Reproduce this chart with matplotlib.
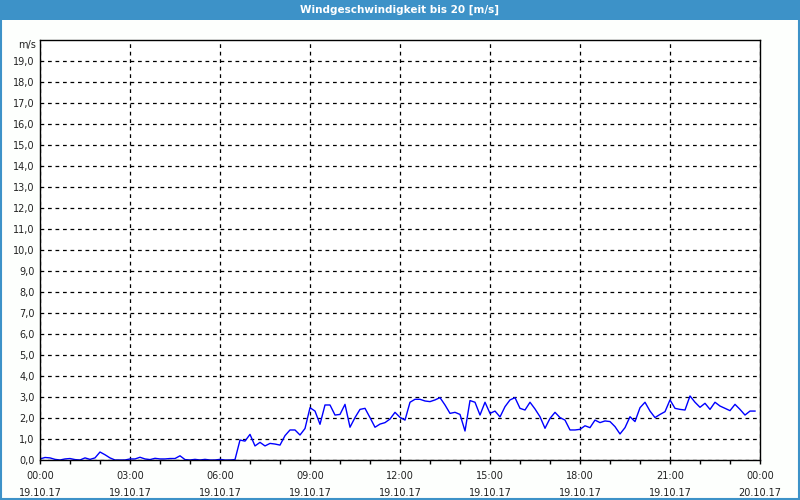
"""
Windgeschwindigkeit über einen Tag (10-Minuten-Werte), im Stil des
Wetterstations-Fensters mit blauer Titelleiste.
"""

import numpy as np
import matplotlib
matplotlib.use("Agg")
import matplotlib.pyplot as plt
import matplotlib.patches as mpatches
from matplotlib.ticker import MultipleLocator, FixedLocator

# ── Data ──────────────────────────────────────────────────────────────────────

TITLE = "Windgeschwindigkeit bis 20 [m/s]"
UNIT = "m/s"

# 10-minute samples from 19.10.17 00:00 to 23:50 (hours since midnight)
hours = np.arange(144) / 6.0

wind = [
    0.05, 0.12, 0.10, 0.03, 0.00, 0.05, 0.07, 0.02, 0.00, 0.10,
    0.03, 0.10, 0.38, 0.25, 0.10, 0.00, 0.00, 0.00, 0.05, 0.05,
    0.13, 0.05, 0.02, 0.08, 0.05, 0.05, 0.07, 0.07, 0.20, 0.02,
    0.00, 0.03, 0.00, 0.03, 0.00, 0.00, 0.03, 0.00, 0.00, 0.02,
    0.95, 0.90, 1.22, 0.67, 0.84, 0.67, 0.79, 0.76, 0.71, 1.16,
    1.43, 1.43, 1.19, 1.50, 2.49, 2.33, 1.70, 2.62, 2.62, 2.14,
    2.17, 2.65, 1.56, 2.02, 2.41, 2.46, 2.02, 1.56, 1.71, 1.78,
    1.95, 2.27, 2.03, 1.90, 2.75, 2.89, 2.89, 2.81, 2.78, 2.86,
    2.97, 2.62, 2.22, 2.27, 2.17, 1.38, 2.83, 2.75, 2.14, 2.75,
    2.22, 2.33, 2.05, 2.54, 2.86, 2.97, 2.46, 2.38, 2.75, 2.43,
    2.06, 1.51, 1.98, 2.27, 2.02, 1.90, 1.43, 1.43, 1.46, 1.63,
    1.54, 1.90, 1.78, 1.86, 1.83, 1.59, 1.24, 1.54, 2.06, 1.83,
    2.49, 2.75, 2.33, 2.02, 2.17, 2.30, 2.86, 2.46, 2.41, 2.38,
    3.05, 2.75, 2.51, 2.70, 2.41, 2.75, 2.57, 2.46, 2.35, 2.65,
    2.41, 2.14, 2.33, 2.33,
]

major_hours = [0, 3, 6, 9, 12, 15, 18, 21, 24]
major_labels = [
    "00:00\n19.10.17", "03:00\n19.10.17", "06:00\n19.10.17",
    "09:00\n19.10.17", "12:00\n19.10.17", "15:00\n19.10.17",
    "18:00\n19.10.17", "21:00\n19.10.17", "00:00\n20.10.17",
]
y_ticks = list(range(0, 20))

# ── Style ─────────────────────────────────────────────────────────────────────

FRAME_BLUE = "#3d92c8"
LINE_BLUE = "#0000ff"
TEXT_C = "#222222"

plt.rcParams.update({
    "font.family": "DejaVu Sans",
    "font.size": 7,
})

# ── Figure ────────────────────────────────────────────────────────────────────

fig = plt.figure(figsize=(8, 5), dpi=100, facecolor="#fdfffd")

# title bar and window border
fig.patches.append(mpatches.Rectangle((0, 0.96), 1, 0.04, transform=fig.transFigure,
                                      facecolor=FRAME_BLUE, edgecolor="none", zorder=0))
fig.patches.append(mpatches.Rectangle((0.001, 0.002), 0.998, 0.97, transform=fig.transFigure,
                                      facecolor="none", edgecolor=FRAME_BLUE, lw=1.5, zorder=0))
fig.text(0.5, 0.98, TITLE, ha="center", va="center", color="white",
         fontsize=7.5, fontweight="bold")

ax = fig.add_axes([0.05, 0.08, 0.90, 0.84])
ax.set_facecolor("white")
ax.set_xlim(0, 24)
ax.set_ylim(0, 20)

ax.plot(hours, wind, color=LINE_BLUE, lw=1.0, zorder=2)

# axes, ticks, grid
ax.xaxis.set_major_locator(FixedLocator(major_hours))
ax.set_xticklabels(major_labels, linespacing=1.9)
ax.xaxis.set_minor_locator(MultipleLocator(1))
ax.set_yticks(y_ticks)
ax.set_yticklabels([f"{v},0" for v in y_ticks])

ax.tick_params(axis="x", which="both", direction="out", length=3, width=1,
               colors="black", labelcolor=TEXT_C, pad=5)
ax.tick_params(axis="y", length=0, pad=4, labelcolor=TEXT_C)

ax.grid(True, which="major", color="black", lw=0.9, ls=(0, (3, 3)))
ax.set_axisbelow(True)
for sp in ax.spines.values():
    sp.set_color("black")
    sp.set_linewidth(1.0)

ax.text(-0.005, 19.75, UNIT, transform=ax.get_yaxis_transform(),
        ha="right", va="center", color=TEXT_C, fontsize=7)

fig.savefig("out.png", dpi=100, facecolor=fig.get_facecolor())
